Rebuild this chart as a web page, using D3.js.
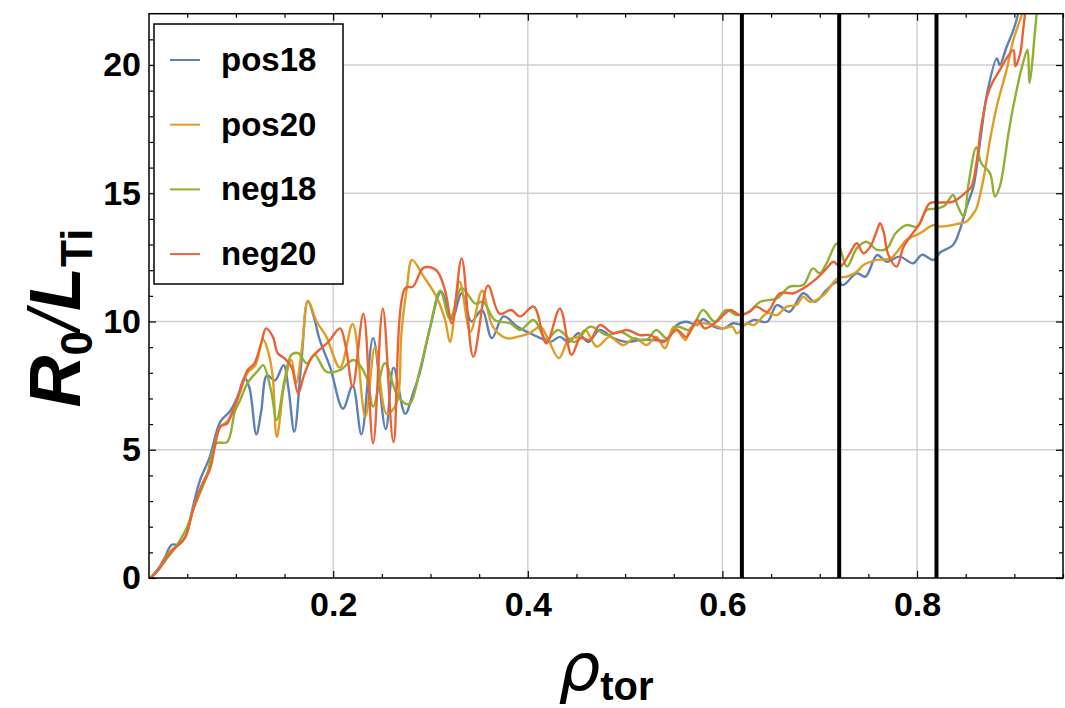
<!DOCTYPE html>
<html>
<head>
<meta charset="utf-8">
<script src="https://cdn.jsdelivr.net/npm/d3@7"></script>
<style>
  body { margin: 0; background: #fff; }
  svg { font-family: "Liberation Sans", Arial, sans-serif; }
</style>
</head>
<body>
<div id="chart"></div>
<script>
// ---- data ----
const seriesNames = ['pos18', 'pos20', 'neg18', 'neg20'];
const seriesColors = ['#5E81B5', '#E19C24', '#8FB032', '#EB6235'];

const pos18Rho = [0.012,0.020,0.027,0.034,0.041,0.048,0.056,0.063,0.073,0.084,0.094,0.102,0.109,0.114,0.121,0.126,0.132,0.140,0.149,0.154,0.160,0.167,0.174,0.180,0.186,0.197,0.210,0.220,0.229,0.241,0.254,0.262,0.274,0.282,0.289,0.299,0.311,0.322,0.332,0.342,0.353,0.363,0.375,0.389,0.399,0.413,0.423,0.433,0.442,0.452,0.462,0.474,0.488,0.502,0.515,0.529,0.543,0.553,0.563,0.574,0.580,0.591,0.601,0.611,0.622,0.632,0.646,0.656,0.669,0.683,0.695,0.707,0.718,0.724,0.738,0.747,0.759,0.769,0.782,0.796,0.805,0.817,0.824,0.837,0.844,0.851,0.858,0.865,0.872,0.882,0.885,0.892,0.899,0.904,0.908];
const pos18Val = [0,0.35,0.8,1.3,1.3,1.6,2.8,3.8,4.7,6.1,6.5,7.1,7.8,7.4,5.6,6.5,7.9,7.7,8.3,7.4,5.7,8.3,10.8,10.2,9.3,8.2,6.6,7.5,5.6,9.35,5.8,8.2,6.4,7.2,8.0,9.67,11.16,10.1,11.1,10.0,10.45,9.35,10.2,9.8,9.6,9.35,9.2,9.4,9.2,9.54,9.2,9.67,9.35,9.2,9.28,9.28,9.28,9.86,9.99,9.86,10.1,9.8,9.73,9.93,9.86,10.06,9.99,10.64,10.38,11.1,10.77,11.23,11.55,11.42,11.88,11.75,12.59,12.33,12.53,12.27,12.6,12.4,12.7,12.98,13.57,14.48,15.26,17.08,18.9,20.26,20.0,20.7,21.36,22.0,22.6];

const pos20Rho = [0.012,0.020,0.027,0.034,0.041,0.048,0.056,0.065,0.073,0.084,0.091,0.101,0.112,0.120,0.128,0.134,0.138,0.142,0.150,0.157,0.162,0.168,0.174,0.183,0.193,0.207,0.220,0.233,0.243,0.255,0.265,0.270,0.276,0.281,0.293,0.306,0.315,0.320,0.330,0.341,0.353,0.364,0.378,0.389,0.402,0.413,0.421,0.432,0.442,0.452,0.459,0.471,0.484,0.498,0.510,0.522,0.532,0.541,0.550,0.562,0.567,0.577,0.591,0.601,0.610,0.615,0.625,0.632,0.646,0.656,0.666,0.676,0.683,0.690,0.704,0.718,0.728,0.738,0.745,0.759,0.773,0.782,0.789,0.803,0.817,0.824,0.841,0.851,0.858,0.861,0.868,0.875,0.882,0.892,0.899,0.908,0.912];
const pos20Val = [0,0.3,0.75,1.1,1.3,1.6,2.7,3.6,4.3,5.9,6.1,6.9,8.0,8.3,9.3,8.7,7.8,5.5,7.6,8.5,7.6,9.0,10.8,10.0,9.4,8.2,9.9,6.3,9.0,6.4,6.8,9.5,11.4,12.4,11.75,10.97,10.06,9.2,11.55,9.6,11.2,9.8,9.35,9.4,9.55,9.8,9.3,8.57,9.3,9.4,9.67,9.02,9.4,9.08,9.35,9.08,9.4,8.96,9.8,9.28,9.73,9.93,9.86,9.73,9.8,9.54,9.93,9.86,10.32,10.25,10.58,10.64,10.97,10.77,11.03,11.68,11.75,11.94,12.2,12.4,12.46,12.85,13.18,13.44,13.76,13.7,13.8,13.9,14.22,14.4,15.5,17.08,18.4,19.8,20.98,22.0,22.6];

const neg18Rho = [0.012,0.020,0.028,0.036,0.043,0.050,0.056,0.063,0.070,0.080,0.091,0.099,0.104,0.112,0.123,0.128,0.136,0.142,0.150,0.157,0.164,0.173,0.181,0.193,0.207,0.221,0.234,0.241,0.253,0.265,0.274,0.279,0.289,0.299,0.310,0.320,0.332,0.346,0.354,0.366,0.382,0.392,0.406,0.419,0.431,0.448,0.464,0.481,0.495,0.508,0.522,0.532,0.543,0.553,0.567,0.580,0.592,0.604,0.615,0.627,0.639,0.656,0.669,0.683,0.693,0.700,0.707,0.718,0.728,0.738,0.748,0.759,0.769,0.778,0.789,0.800,0.810,0.820,0.828,0.837,0.842,0.848,0.853,0.861,0.866,0.875,0.880,0.885,0.889,0.894,0.899,0.908,0.9135,0.9155,0.918,0.921,0.923,0.925];
const neg18Val = [0,0.3,0.7,1.1,1.5,2.0,2.65,3.3,3.95,5.25,5.3,6.5,6.9,7.6,8.1,8.3,7.33,6.16,7.72,8.7,8.77,8.37,8.7,8.04,8.1,8.5,7.85,6.68,8.37,7.2,6.8,6.8,8.1,9.67,11.2,10.1,11.3,10.7,10.77,10.06,9.93,9.67,10.06,9.3,9.67,9.2,9.8,9.47,9.6,9.35,9.28,9.67,9.35,9.8,9.67,10.45,9.99,10.45,10.25,10.38,10.77,10.9,11.36,11.42,12.07,11.88,12.27,13.05,12.14,12.85,13.11,12.79,12.85,13.44,13.76,13.7,14.35,14.4,14.5,14.93,14.48,14.09,15.39,16.8,16.17,15.78,14.87,15.26,16.04,17.34,18.4,19.95,20.6,19.3,19.95,21.23,22.0,22.6];

const neg20Rho = [0.012,0.020,0.029,0.039,0.048,0.056,0.065,0.073,0.084,0.091,0.101,0.112,0.119,0.126,0.131,0.138,0.143,0.150,0.157,0.164,0.170,0.178,0.186,0.195,0.207,0.213,0.220,0.231,0.241,0.251,0.262,0.274,0.282,0.293,0.306,0.315,0.322,0.332,0.344,0.359,0.371,0.383,0.392,0.406,0.419,0.433,0.445,0.454,0.464,0.474,0.488,0.502,0.515,0.526,0.539,0.553,0.563,0.574,0.582,0.594,0.608,0.618,0.628,0.635,0.646,0.659,0.673,0.683,0.697,0.707,0.714,0.721,0.731,0.738,0.745,0.752,0.759,0.762,0.766,0.770,0.779,0.786,0.793,0.803,0.813,0.824,0.837,0.851,0.856,0.861,0.866,0.872,0.877,0.885,0.892,0.899,0.901,0.906,0.909,0.911,0.913];
const neg20Val = [0,0.3,0.83,1.22,1.6,2.65,3.63,4.2,5.9,6.03,6.94,8.1,8.37,9.15,9.73,9.4,8.76,8.56,8.24,7.2,7.9,8.6,8.9,9.2,9.73,9.0,7.46,10.3,5.25,10.5,5.3,11.3,11.36,12.1,12.0,11.2,9.93,12.46,8.63,11.4,10.3,10.45,10.2,10.58,9.15,10.5,8.7,9.35,9.28,9.86,9.54,9.67,9.47,9.47,9.2,9.67,9.4,10.06,9.73,9.99,10.45,10.25,10.38,10.58,10.38,11.1,11.1,11.29,11.68,12.07,12.33,12.14,12.66,13.05,12.66,12.92,13.57,13.83,13.44,12.66,12.14,12.9,13.31,13.83,14.61,14.64,14.67,15.06,15.26,16.17,17.6,18.77,19.28,19.8,20.26,20.58,19.95,20.45,21.36,22.0,22.6];

const markerRho = [0.62, 0.72, 0.82];
const xMajorTicks = [0.2, 0.4, 0.6, 0.8];
const yMajorTicks = [0, 5, 10, 15, 20];

const seriesRho = [pos18Rho, pos20Rho, neg18Rho, neg20Rho];
const seriesVal = [pos18Val, pos20Val, neg18Val, neg20Val];

// ---- layout ----
const width = 1065, height = 708;
const plotLeft = 149, plotRight = 1063, plotTop = 13.7, plotBottom = 578;

const svg = d3.select('#chart').append('svg')
  .attr('width', width)
  .attr('height', height);

const x = d3.scaleLinear().domain([0.0107, 0.950]).range([plotLeft, plotRight]);
const y = d3.scaleLinear().domain([0, 22]).range([plotBottom, plotTop]);

const xMinor = d3.range(0.05, 0.951, 0.05).filter(v => !xMajorTicks.some(m => Math.abs(m - v) < 1e-6));
const yMinor = d3.range(1, 22, 1).filter(v => v % 5 !== 0);

// gridlines
const grid = svg.append('g').attr('stroke', '#cfcfcf').attr('stroke-width', 1.4);
grid.selectAll('.gx').data(xMajorTicks).enter().append('line')
  .attr('x1', d => x(d)).attr('x2', d => x(d)).attr('y1', plotTop).attr('y2', plotBottom);
grid.selectAll('.gy').data(yMajorTicks.filter(d => d > 0)).enter().append('line')
  .attr('x1', plotLeft).attr('x2', plotRight).attr('y1', d => y(d)).attr('y2', d => y(d));

// curves
svg.append('clipPath').attr('id', 'plotClip').append('rect')
  .attr('x', plotLeft).attr('y', plotTop).attr('width', plotRight - plotLeft).attr('height', plotBottom - plotTop);

const line = d3.line()
  .x(d => x(d[0]))
  .y(d => y(d[1]))
  .curve(d3.curveCatmullRom.alpha(0.5));

const curves = svg.append('g').attr('clip-path', 'url(#plotClip)');
seriesNames.forEach((name, i) => {
  const pts = seriesRho[i].map((r, k) => [r, seriesVal[i][k]]);
  curves.append('path')
    .datum(pts)
    .attr('d', line)
    .attr('fill', 'none')
    .attr('stroke', seriesColors[i])
    .attr('stroke-width', 2.4)
    .attr('stroke-linejoin', 'round');
});

// black vertical markers
svg.append('g').selectAll('line').data(markerRho).enter().append('line')
  .attr('x1', d => x(d)).attr('x2', d => x(d))
  .attr('y1', plotTop).attr('y2', plotBottom)
  .attr('stroke', '#000').attr('stroke-width', 4);

// axes (ticks point inward)
function styleAxis(g) {
  g.select('.domain').remove();
  g.selectAll('.tick line').attr('stroke', '#000').attr('stroke-width', 1.2);
}

svg.append('g').attr('transform', `translate(0,${plotBottom})`)
  .call(d3.axisBottom(x).tickValues(xMinor).tickSize(-4).tickFormat(''))
  .call(styleAxis);
svg.append('g').attr('transform', `translate(0,${plotBottom})`)
  .call(d3.axisBottom(x).tickValues(xMajorTicks).tickSize(-7).tickPadding(14).tickFormat(d3.format('.1f')))
  .call(styleAxis)
  .selectAll('text').attr('font-size', 34).attr('font-weight', 'bold').attr('fill', '#000');

svg.append('g').attr('transform', `translate(0,${plotTop})`)
  .call(d3.axisTop(x).tickValues(xMinor).tickSize(-4).tickFormat(''))
  .call(styleAxis);
svg.append('g').attr('transform', `translate(0,${plotTop})`)
  .call(d3.axisTop(x).tickValues(xMajorTicks).tickSize(-7).tickFormat(''))
  .call(styleAxis);

svg.append('g').attr('transform', `translate(${plotLeft},0)`)
  .call(d3.axisLeft(y).tickValues(yMinor).tickSize(-4).tickFormat(''))
  .call(styleAxis);
svg.append('g').attr('transform', `translate(${plotLeft},0)`)
  .call(d3.axisLeft(y).tickValues(yMajorTicks).tickSize(-7).tickPadding(8))
  .call(styleAxis)
  .selectAll('text').attr('font-size', 34).attr('font-weight', 'bold').attr('fill', '#000');

svg.append('g').attr('transform', `translate(${plotRight},0)`)
  .call(d3.axisRight(y).tickValues(yMinor).tickSize(-4).tickFormat(''))
  .call(styleAxis);
svg.append('g').attr('transform', `translate(${plotRight},0)`)
  .call(d3.axisRight(y).tickValues(yMajorTicks).tickSize(-7).tickFormat(''))
  .call(styleAxis);

// frame
svg.append('rect')
  .attr('x', plotLeft).attr('y', plotTop)
  .attr('width', plotRight - plotLeft).attr('height', plotBottom - plotTop)
  .attr('fill', 'none').attr('stroke', '#000').attr('stroke-width', 1.5);

// legend
const legend = svg.append('g');
legend.append('rect')
  .attr('x', 154).attr('y', 24).attr('width', 189).attr('height', 260)
  .attr('fill', '#fff').attr('stroke', '#000').attr('stroke-width', 1.5);
seriesNames.forEach((name, i) => {
  const cy = 60 + i * 64.7;
  legend.append('line')
    .attr('x1', 170).attr('x2', 200).attr('y1', cy).attr('y2', cy)
    .attr('stroke', seriesColors[i]).attr('stroke-width', 2);
  legend.append('text')
    .attr('x', 221).attr('y', cy + 11)
    .attr('font-size', 33).attr('font-weight', 'bold')
    .text(name);
});

// axis titles
const yTitle = svg.append('text')
  .attr('transform', 'translate(80,318) rotate(-90)')
  .attr('text-anchor', 'middle')
  .attr('font-size', 72).attr('font-weight', 'bold');
yTitle.append('tspan').attr('font-style', 'italic').text('R');
yTitle.append('tspan').attr('font-size', 44).attr('dy', 12).text('0');
yTitle.append('tspan').attr('dy', -12).attr('font-weight', 'normal').attr('font-style', 'italic').text('/');
yTitle.append('tspan').attr('font-style', 'italic').text('L');
yTitle.append('tspan').attr('font-size', 44).attr('dy', 12).text('Ti');

const xTitle = svg.append('text')
  .attr('x', (plotLeft + plotRight) / 2).attr('y', 690)
  .attr('text-anchor', 'middle')
  .attr('font-size', 66).attr('font-weight', 'bold');
xTitle.append('tspan').attr('font-style', 'italic').attr('font-family', 'DejaVu Sans').attr('font-weight', 'normal').text('ρ');
xTitle.append('tspan').attr('font-size', 40).attr('dy', 10).text('tor');
</script>
</body>
</html>
